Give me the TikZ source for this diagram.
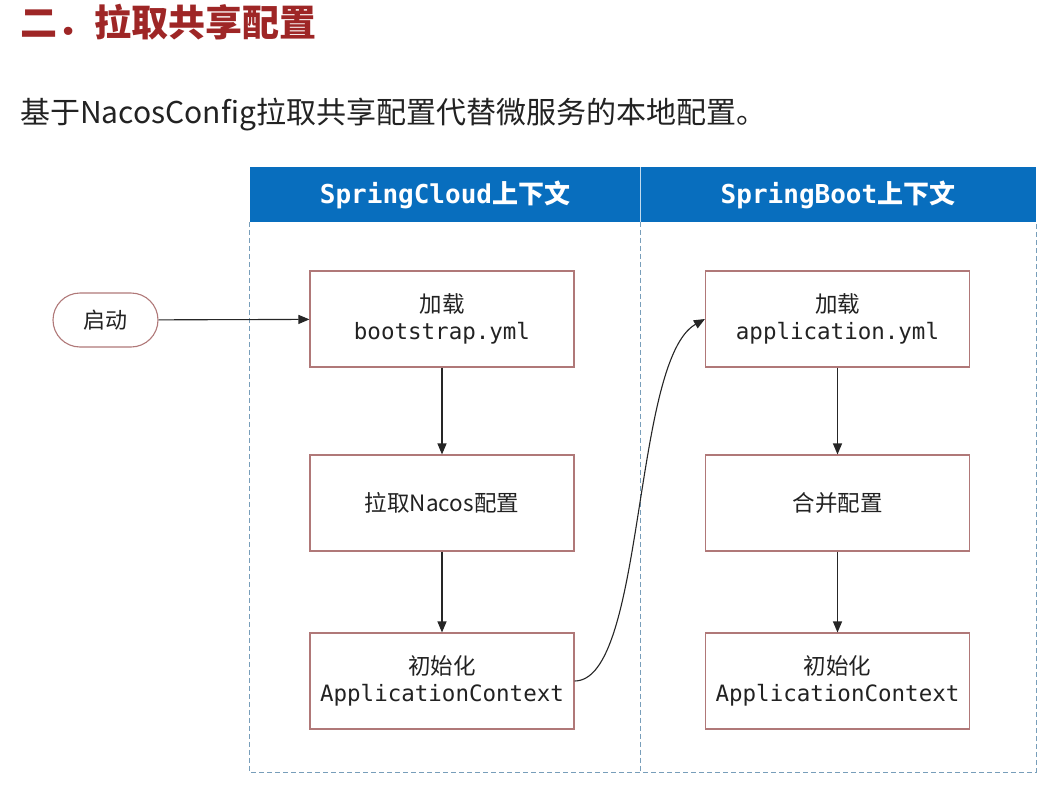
\documentclass[tikz,border=0pt]{standalone}
\usepackage{fontspec}
\setmainfont{Noto Sans CJK SC}
\setmonofont{DejaVu Sans Mono}
\usetikzlibrary{arrows.meta,shapes.misc}
\definecolor{titlered}{RGB}{158,38,38}
\definecolor{textdark}{RGB}{34,34,34}
\definecolor{hdrblue}{RGB}{8,110,190}
\definecolor{lanecol}{RGB}{120,158,186}
\definecolor{boxcol}{RGB}{176,120,120}
\tikzset{
  lane/.style={inner sep=0pt},
  laneline/.style={draw=lanecol, line width=1pt, dash pattern=on 5pt off 3pt},
  header/.style={fill=hdrblue, inner sep=0pt, minimum height=55pt, text=white,
    font=\fontsize{26}{30}\selectfont\bfseries},
  stepbox/.style={draw=boxcol, line width=1.1pt, fill=white, minimum width=264pt, minimum height=96pt,
    inner sep=0pt, align=center, text=textdark, font=\fontsize{22.5}{27.5}\selectfont},
  startnode/.style={draw=boxcol, line width=1.1pt, rounded rectangle, minimum width=105pt,
    minimum height=54pt, inner sep=0pt, text=textdark, font=\fontsize{22}{26}\selectfont},
  flow/.style={draw=black!85, line width=1.1pt, -{Triangle[length=11pt,width=9pt]}}
}
\newcommand{\mt}[1]{{\ttfamily #1}}
\begin{document}
\begin{tikzpicture}[x=1pt,y=-1pt]
\fill[white] (0,0) rectangle (1060,795);
\useasboundingbox (0,0) rectangle (1060,795);

% title and subtitle
\node[anchor=west, inner sep=0pt, text=titlered, font=\fontsize{37}{41}\selectfont\bfseries] (title) at (20,22) {二．拉取共享配置};
\node[anchor=west, inner sep=0pt, text=textdark, font=\fontsize{30}{35}\selectfont] (subtitle) at (20,115) {基于NacosConfig拉取共享配置代替微服务的本地配置。};

% lanes
\node[lane, minimum width=390pt, minimum height=550pt] (laneL) at (445,497) {};
\node[lane, minimum width=396pt, minimum height=550pt] (laneR) at (838,497) {};
\draw[laneline] (laneL.north west) -- (laneL.south west) -- (laneR.south east) -- (laneR.north east);
\draw[laneline] (laneL.north east) -- (laneL.south east);
\node[header, minimum width=390pt] (hdrL) at (445,194.5) {\mt{SpringCloud}上下文};
\node[header, minimum width=396pt] (hdrR) at (838,194.5) {\mt{SpringBoot}上下文};
\draw[white!75!hdrblue, line width=1pt] (hdrL.north east) -- (hdrL.south east);

% start
\node[startnode] (start) at (105.5,320) {启动};

% left column
\node[stepbox] (l1) at (442,319) {加载\\\mt{bootstrap.yml}};
\node[stepbox] (l2) at (442,503) {拉取Nacos配置};
\node[stepbox] (l3) at (442,681) {初始化\\\mt{ApplicationContext}};

% right column
\node[stepbox] (r1) at (837.5,319) {加载\\\mt{application.yml}};
\node[stepbox] (r2) at (837.5,503) {合并配置};
\node[stepbox] (r3) at (837.5,681) {初始化\\\mt{ApplicationContext}};

% connectors
\draw[flow] (start) -- (l1);
\draw[flow] (l1) -- (l2);
\draw[flow] (l2) -- (l3);
\draw[flow] (r1) -- (r2);
\draw[flow] (r2) -- (r3);
\draw[flow] (l3.east) .. controls +(71,0) and +(-73,41) .. (r1.west);
\end{tikzpicture}
\end{document}
